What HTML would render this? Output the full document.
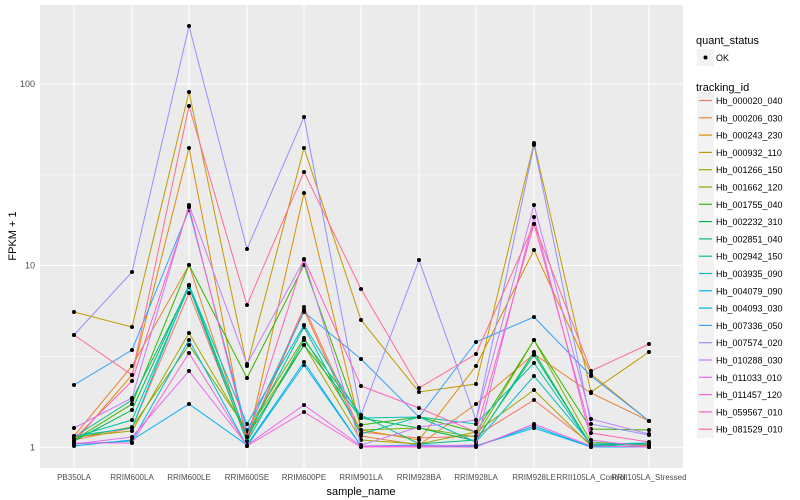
<!DOCTYPE html>
<html><head><meta charset="utf-8"><style>
body{margin:0;background:#fff;}
svg{display:block;font-family:"Liberation Sans",sans-serif;}
</style></head><body>
<svg width="800" height="500" xmlns="http://www.w3.org/2000/svg">
<defs><marker id="d" markerUnits="userSpaceOnUse" markerWidth="6" markerHeight="6" refX="3" refY="3"><circle cx="3" cy="3" r="2" fill="#000"/></marker></defs>
<rect x="40" y="5" width="643" height="463" fill="#EBEBEB"/>
<g stroke="#fff" stroke-width="0.5">
<line x1="40" x2="683" y1="356.5" y2="356.5"/><line x1="40" x2="683" y1="175" y2="175"/>
</g>
<g stroke="#fff" stroke-width="1.1">
<line x1="40" x2="683" y1="447.3" y2="447.3"/><line x1="40" x2="683" y1="265.5" y2="265.5"/><line x1="40" x2="683" y1="84" y2="84"/>
<line x1="74" x2="74" y1="5" y2="468"/><line x1="132" x2="132" y1="5" y2="468"/><line x1="189" x2="189" y1="5" y2="468"/><line x1="247" x2="247" y1="5" y2="468"/><line x1="304" x2="304" y1="5" y2="468"/><line x1="361" x2="361" y1="5" y2="468"/><line x1="419" x2="419" y1="5" y2="468"/><line x1="476" x2="476" y1="5" y2="468"/><line x1="534" x2="534" y1="5" y2="468"/><line x1="591" x2="591" y1="5" y2="468"/><line x1="649" x2="649" y1="5" y2="468"/>
</g>
<g fill="none" stroke-width="1" marker-start="url(#d)" marker-mid="url(#d)" marker-end="url(#d)">
<polyline stroke="#F8766D" points="74,440 132,428 189,293 247,440 304,307 361,432 419,438 476,436 534,400 591,444 649,445"/>
<polyline stroke="#EA8331" points="74,436 132,366 189,265 247,441 304,310 361,436 419,445 476,404 534,354 591,393 649,421"/>
<polyline stroke="#D89000" points="74,442 132,375 189,148 247,444 304,193 361,430 419,440 476,366 534,250 591,374 649,421"/>
<polyline stroke="#C09B00" points="74,312 132,327 189,92 247,366 304,148 361,320 419,392 476,384 534,143 591,392 649,352"/>
<polyline stroke="#A3A500" points="74,437 132,431 189,333 247,432 304,345 361,440 419,444 476,432 534,390 591,446 649,446"/>
<polyline stroke="#7CAE00" points="74,438 132,427 189,345 247,430 304,338 361,430 419,428 476,437 534,340 591,442 649,446"/>
<polyline stroke="#39B600" points="74,440 132,404 189,265 247,378 304,265 361,425 419,417 476,432 534,340 591,429 649,430"/>
<polyline stroke="#00BB4E" points="74,441 132,410 189,285 247,437 304,345 361,418 419,428 476,441 534,352 591,446 649,443"/>
<polyline stroke="#00BF7D" points="74,437 132,400 189,287 247,442 304,340 361,415 419,444 476,440 534,355 591,445 649,444"/>
<polyline stroke="#00C1A3" points="74,437 132,420 189,287 247,436 304,327 361,434 419,417 476,424 534,363 591,445 649,447"/>
<polyline stroke="#00BFC4" points="74,436 132,428 189,285 247,424 304,325 361,418 419,417 476,442 534,376 591,444 649,443"/>
<polyline stroke="#00BAE0" points="74,444 132,441 189,340 247,446 304,365 361,446 419,446 476,446 534,428 591,447 649,447"/>
<polyline stroke="#00B0F6" points="74,446 132,440 189,404 247,445 304,362 361,446 419,445 476,446 534,426 591,447 649,447"/>
<polyline stroke="#35A2FF" points="74,385 132,350 189,210 247,431 304,312 361,359 419,417 476,342 534,317 591,376 649,421"/>
<polyline stroke="#9590FF" points="74,335 132,272 189,26 247,249 304,117 361,415 419,260 476,420 534,145 591,424 649,435"/>
<polyline stroke="#C77CFF" points="74,428 132,398 189,205 247,364 304,260 361,445 419,427 476,420 534,205 591,419 649,434"/>
<polyline stroke="#E76BF3" points="74,444 132,437 189,371 247,445 304,405 361,446 419,446 476,445 534,217 591,440 649,447"/>
<polyline stroke="#FA62DB" points="74,443 132,443 189,353 247,446 304,412 361,447 419,447 476,447 534,424 591,446 649,447"/>
<polyline stroke="#FF62BC" points="74,439 132,381 189,207 247,437 304,259 361,386 419,408 476,432 534,224 591,433 649,442"/>
<polyline stroke="#FF6C91" points="74,335 132,375 189,106 247,305 304,172 361,289 419,388 476,354 534,224 591,371 649,344"/>
</g>
<g font-size="9" fill="#4d4d4d" text-anchor="end">
<text x="35" y="450.5">1</text><text x="35" y="268.5">10</text><text x="35" y="87">100</text>
</g>
<g font-size="8" fill="#4d4d4d" text-anchor="middle">
<text x="74" y="480">PB350LA</text><text x="132" y="480">RRIM600LA</text><text x="189" y="480">RRIM600LE</text><text x="247" y="480">RRIM600SE</text><text x="304" y="480">RRIM600PE</text><text x="361" y="480">RRIM901LA</text><text x="419" y="480">RRIM928BA</text><text x="476" y="480">RRIM928LA</text><text x="534" y="480">RRIM928LE</text><text x="591" y="480">RRII105LA_Control</text><text x="649" y="480">RRII105LA_Stressed</text>
</g>
<text x="361" y="495" font-size="11" text-anchor="middle">sample_name</text>
<text transform="translate(16,236) rotate(-90)" font-size="11" text-anchor="middle">FPKM + 1</text>
<text x="696" y="44" font-size="11">quant_status</text>
<rect x="697" y="49" width="17" height="17" fill="#F2F2F2"/><circle cx="705.5" cy="57.5" r="2" fill="#000"/>
<text x="716" y="61" font-size="9">OK</text>
<text x="696" y="91" font-size="11">tracking_id</text>
<g font-size="9">
<rect x="697" y="92" width="17" height="346" fill="#F2F2F2"/>
<g stroke-width="1.2">
<line x1="699" x2="712" y1="100.5" y2="100.5" stroke="#F8766D"/><line x1="699" x2="712" y1="117.8" y2="117.8" stroke="#EA8331"/><line x1="699" x2="712" y1="135.1" y2="135.1" stroke="#D89000"/><line x1="699" x2="712" y1="152.4" y2="152.4" stroke="#C09B00"/><line x1="699" x2="712" y1="169.7" y2="169.7" stroke="#A3A500"/><line x1="699" x2="712" y1="187" y2="187" stroke="#7CAE00"/><line x1="699" x2="712" y1="204.3" y2="204.3" stroke="#39B600"/><line x1="699" x2="712" y1="221.6" y2="221.6" stroke="#00BB4E"/><line x1="699" x2="712" y1="238.9" y2="238.9" stroke="#00BF7D"/><line x1="699" x2="712" y1="256.2" y2="256.2" stroke="#00C1A3"/><line x1="699" x2="712" y1="273.5" y2="273.5" stroke="#00BFC4"/><line x1="699" x2="712" y1="290.8" y2="290.8" stroke="#00BAE0"/><line x1="699" x2="712" y1="308.1" y2="308.1" stroke="#00B0F6"/><line x1="699" x2="712" y1="325.4" y2="325.4" stroke="#35A2FF"/><line x1="699" x2="712" y1="342.7" y2="342.7" stroke="#9590FF"/><line x1="699" x2="712" y1="360" y2="360" stroke="#C77CFF"/><line x1="699" x2="712" y1="377.3" y2="377.3" stroke="#E76BF3"/><line x1="699" x2="712" y1="394.6" y2="394.6" stroke="#FA62DB"/><line x1="699" x2="712" y1="411.9" y2="411.9" stroke="#FF62BC"/><line x1="699" x2="712" y1="429.2" y2="429.2" stroke="#FF6C91"/>
</g>
<text x="716" y="104">Hb_000020_040</text><text x="716" y="121.3">Hb_000206_030</text><text x="716" y="138.6">Hb_000243_230</text><text x="716" y="155.9">Hb_000932_110</text><text x="716" y="173.2">Hb_001266_150</text><text x="716" y="190.5">Hb_001662_120</text><text x="716" y="207.8">Hb_001755_040</text><text x="716" y="225.1">Hb_002232_310</text><text x="716" y="242.4">Hb_002851_040</text><text x="716" y="259.7">Hb_002942_150</text><text x="716" y="277">Hb_003935_090</text><text x="716" y="294.3">Hb_004079_090</text><text x="716" y="311.6">Hb_004093_030</text><text x="716" y="328.9">Hb_007336_050</text><text x="716" y="346.2">Hb_007574_020</text><text x="716" y="363.5">Hb_010288_030</text><text x="716" y="380.8">Hb_011033_010</text><text x="716" y="398.1">Hb_011457_120</text><text x="716" y="415.4">Hb_059567_010</text><text x="716" y="432.7">Hb_081529_010</text>
</g>
</svg>
</body></html>
